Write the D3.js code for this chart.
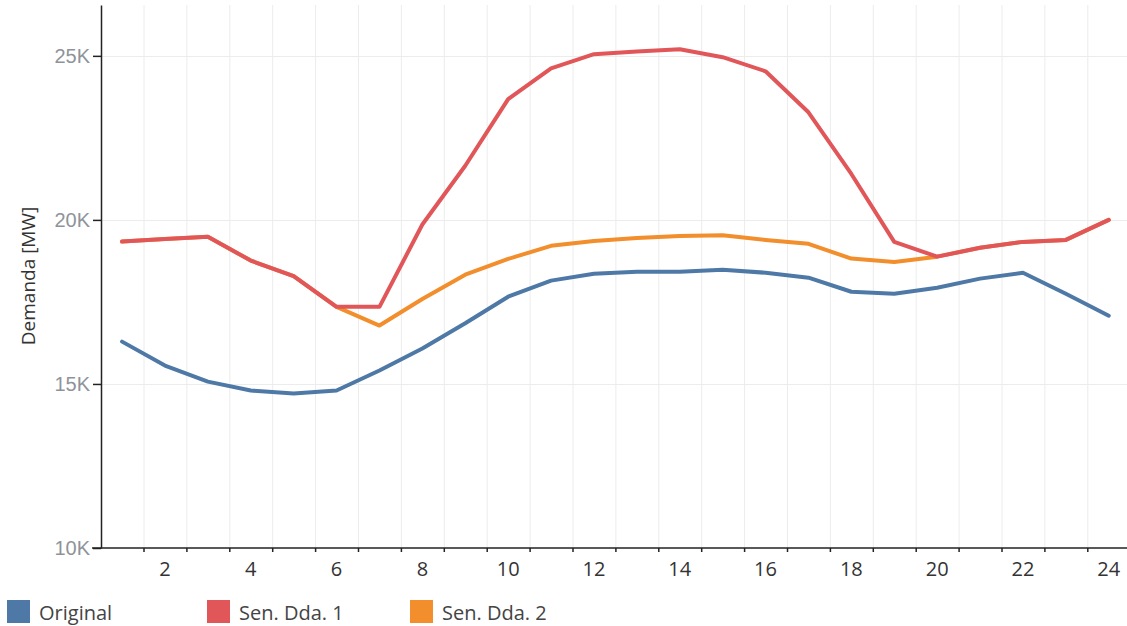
<!DOCTYPE html>
<html>
<head>
<meta charset="utf-8">
<script src="https://cdn.jsdelivr.net/npm/d3@7"></script>
<style>
  body { margin: 0; background: #fff; }
  svg { display: block; font-family: "Open Sans", "Noto Sans", sans-serif; }
</style>
</head>
<body>
<svg id="chart" width="1127" height="626"></svg>
<script>
// Datos (demanda por hora, MW)
const hours = d3.range(1, 25);
const original = [16290, 15560, 15070, 14800, 14710, 14800, 15410, 16080, 16850, 17660, 18150, 18360,
                  18420, 18420, 18480, 18390, 18240, 17810, 17750, 17930, 18210, 18390, 17750, 17080];
const senDda1 = [19340, 19420, 19490, 18760, 18290, 17350, 17350, 19860, 21650, 23680, 24620, 25050,
                 25130, 25200, 24960, 24530, 23280, 21400, 19330, 18880, 19150, 19330, 19390, 20000];
const senDda2 = [19340, 19420, 19490, 18760, 18290, 17350, 16780, 17590, 18330, 18810, 19210, 19360,
                 19450, 19510, 19530, 19390, 19270, 18820, 18720, 18880, 19150, 19330, 19390, 20000];
const yTicks = [10000, 15000, 20000, 25000];
const seriesNames = ["Original", "Sen. Dda. 1", "Sen. Dda. 2"];
const seriesColors = ["#4e79a7", "#e15759", "#f28e2b"];

const series = [
  { name: seriesNames[0], values: original, color: seriesColors[0] },
  { name: seriesNames[1], values: senDda1, color: seriesColors[1] },
  { name: seriesNames[2], values: senDda2, color: seriesColors[2] }
];

const svg = d3.select("#chart");

const x = d3.scaleBand()
    .domain(hours)
    .range([100.6, 1130.2]);

const y = d3.scaleLinear()
    .domain([10000, 26550])
    .range([548, 5]);

// Rejilla
svg.append("g")
    .selectAll("line")
    .data(hours.slice(1))
    .enter().append("line")
    .attr("x1", d => x(d) + 0.5)
    .attr("x2", d => x(d) + 0.5)
    .attr("y1", y.range()[1])
    .attr("y2", 548)
    .attr("stroke", "#ececec")
    .attr("stroke-width", 1);

svg.append("g")
    .selectAll("line")
    .data(yTicks.slice(1))
    .enter().append("line")
    .attr("x1", 101)
    .attr("x2", 1127)
    .attr("y1", d => Math.round(y(d)) + 0.5)
    .attr("y2", d => Math.round(y(d)) + 0.5)
    .attr("stroke", "#ececec")
    .attr("stroke-width", 1);

// Líneas
const line = d3.line()
    .x((d, i) => x(hours[i]) + x.bandwidth() / 2)
    .y(d => y(d));

// naranja debajo del rojo, como en el original
const drawOrder = [series[0], series[2], series[1]];
svg.append("g")
    .selectAll("path")
    .data(drawOrder)
    .enter().append("path")
    .attr("fill", "none")
    .attr("stroke", d => d.color)
    .attr("stroke-width", 4)
    .attr("stroke-linejoin", "round")
    .attr("stroke-linecap", "round")
    .attr("d", d => line(d.values));

// Eje Y
const yAxis = svg.append("g")
    .attr("transform", "translate(101,0)")
    .call(d3.axisLeft(y).tickValues(yTicks).tickFormat(d => d / 1000 + "K").tickSize(8).tickSizeOuter(0));
yAxis.select(".domain").attr("stroke", "#222").attr("stroke-width", 1.5);
yAxis.selectAll(".tick line").attr("stroke", "#222").attr("stroke-width", 1.5);
yAxis.selectAll("text")
    .attr("x", -11)
    .attr("fill", "#8f9399")
    .style("font-size", "20px");

// Eje X
const xAxis = svg.append("g")
    .attr("transform", "translate(0,548)");
xAxis.append("line")
    .attr("x1", 92).attr("x2", 1127)
    .attr("stroke", "#222").attr("stroke-width", 1.5);
xAxis.selectAll(".boundary")
    .data(hours.slice(1))
    .enter().append("line")
    .attr("class", "boundary")
    .attr("x1", d => x(d) + 0.5)
    .attr("x2", d => x(d) + 0.5)
    .attr("y1", 0)
    .attr("y2", 4)
    .attr("stroke", "#222")
    .attr("stroke-width", 1.5);
xAxis.selectAll(".hlabel")
    .data(hours.filter(h => h % 2 === 0))
    .enter().append("text")
    .attr("class", "hlabel")
    .attr("x", d => x(d) + x.bandwidth() / 2)
    .attr("y", 28)
    .attr("text-anchor", "middle")
    .attr("fill", "#333")
    .style("font-size", "20px")
    .text(d => d);

// Título eje Y
svg.append("text")
    .attr("transform", "translate(35,276) rotate(-90)")
    .attr("text-anchor", "middle")
    .attr("fill", "#333")
    .style("font-size", "19px")
    .text("Demanda [MW]");

// Leyenda
const legendX = [7, 207, 410];
const legend = svg.append("g")
    .selectAll("g")
    .data(series)
    .enter().append("g")
    .attr("transform", (d, i) => `translate(${legendX[i]},600)`);
legend.append("rect")
    .attr("width", 23)
    .attr("height", 23)
    .attr("fill", d => d.color);
legend.append("text")
    .attr("x", 32)
    .attr("y", 20)
    .attr("fill", "#444")
    .style("font-size", "20px")
    .text(d => d.name);
</script>
</body>
</html>
